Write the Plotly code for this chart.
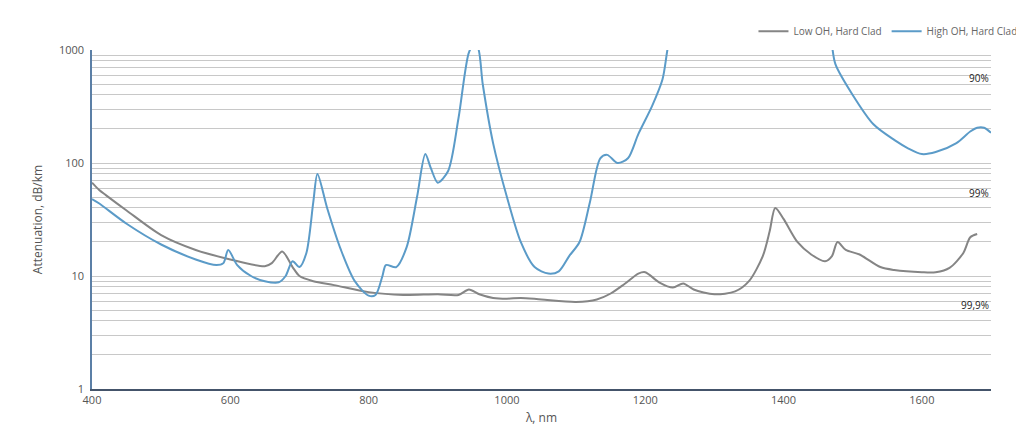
import math
import plotly.graph_objects as go

low_x = [400,410,420,450,500,550,600,650,660,675,690,700,720,750,800,850,900,930,945,960,980,1000,1020,1050,1100,1130,1150,1170,1190,1200,1220,1240,1255,1270,1300,1330,1350,1370,1380,1388,1400,1420,1440,1460,1470,1478,1490,1510,1540,1560,1600,1620,1640,1660,1670,1680]
low_y = [67,58,52,38,23,17,14,12.2,13,16.5,12,10,9,8.3,7.2,6.8,6.9,6.8,7.6,6.9,6.4,6.3,6.4,6.2,5.9,6.2,7.0,8.5,10.5,10.8,8.8,7.9,8.6,7.6,6.9,7.3,9,15,25,40,32,20,15.5,13.5,15,20,17,15.5,12,11.3,10.8,10.8,11.8,16,22,23.5]

high_x = [400,410,450,500,550,580,590,597,610,630,650,670,680,690,700,710,720,726,740,760,780,800,810,820,825,840,855,870,882,890,900,915,930,945,952,958,965,980,1000,1020,1040,1060,1075,1090,1105,1120,1135,1145,1160,1175,1190,1210,1225,1232,1245,1300,1400,1460,1470,1475,1500,1530,1560,1580,1600,1620,1650,1670,1680,1690,1700]
high_y = [48,44,29,19,14,12.5,13,17,12.5,10,9,8.8,10,13.5,12,16,45,80,40,17,9,6.7,6.8,10,12.5,12,18,50,120,90,67,85,250,950,1100,1050,500,150,50,20,12,10.5,11,15,20,45,110,118,100,110,180,320,550,1000,3000,3000,3000,3000,1100,750,400,220,160,135,120,125,150,190,205,205,185]

y_ticks = [1, 10, 100, 1000]
x_ticks = [400, 600, 800, 1000, 1200, 1400, 1600]
labels = ["90%", "99%", "99,9%"]
label_y = [560, 54, 5.5]

fig = go.Figure()
fig.add_trace(go.Scatter(x=low_x, y=low_y, mode="lines", name="Low OH, Hard Clad",
                         line=dict(color="#858585", width=2, shape="spline", smoothing=0.8)))
fig.add_trace(go.Scatter(x=high_x, y=high_y, mode="lines", name="High OH, Hard Clad",
                         line=dict(color="#5b9bc8", width=2, shape="spline", smoothing=0.8)))
for t, v in zip(labels, label_y):
    fig.add_annotation(x=1, xref="paper", y=math.log10(v), yref="y", yanchor="middle", text=t,
                       showarrow=False, xanchor="right", font=dict(size=10, color="#222"))

fig.update_layout(
    width=1024, height=433, plot_bgcolor="white", paper_bgcolor="white",
    margin=dict(l=84, r=41, t=42, b=52, autoexpand=False),
    font=dict(family="Open Sans", size=11, color="#555"),
    legend=dict(orientation="h", x=1.035, xanchor="right", y=1.055, yanchor="middle",
                font=dict(size=10, color="#666"), bgcolor="rgba(0,0,0,0)"),
    xaxis=dict(range=[400, 1700], tickvals=x_ticks, showgrid=False, showline=True, automargin=False,
               linecolor="#44546a", linewidth=1.5, ticks="", title=dict(text="λ, nm", font=dict(size=12), standoff=8)),
    yaxis=dict(type="log", range=[0, 3], tickvals=y_ticks, ticktext=[str(v) for v in y_ticks],
               showgrid=True, gridcolor="#c8c8c8", gridwidth=1, automargin=False,
               minor=dict(showgrid=True, gridcolor="#c8c8c8", gridwidth=1, dtick="D1"),
               showline=True, linecolor="#5b7fa6", linewidth=1.5, ticks="outside", ticklen=4, tickcolor="white",
               title=dict(text="Attenuation, dB/km", font=dict(size=12), standoff=14)),
    showlegend=True,
)
fig.write_html("out.html")
